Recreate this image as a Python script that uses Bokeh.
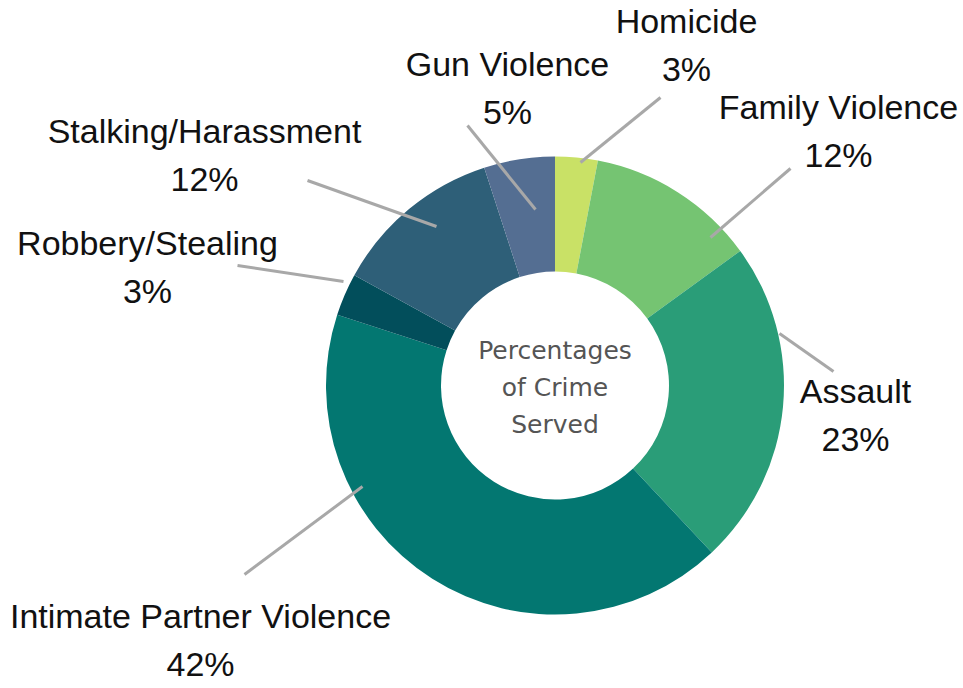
import math
from bokeh.plotting import figure
from bokeh.embed import file_html
from bokeh.resources import INLINE
from bokeh.models import ColumnDataSource
from bokeh.core.properties import value

# ---- data ----
categories = ["Homicide", "Family Violence", "Assault", "Intimate Partner Violence",
              "Robbery/Stealing", "Stalking/Harassment", "Gun Violence"]
percents = [3, 12, 23, 42, 3, 12, 5]
colors = ["#c9e166", "#75c472", "#2a9d78", "#037771", "#024e5b", "#2e5f78", "#546e92"]
center_lines = ["Percentages", "of Crime", "Served"]

# ---- layout (reference pixels, converted below) ----
W, H = 963, 688
def fx(X): return X
def fy(Y): return H - Y

cx, cy = fx(554.5), fy(385)
r_out, r_in = 229, 114

label_pos = [(686, 20), (838, 106), (855, 390), (200, 615), (147, 242), (204, 130), (507, 63)]
leader = [((580, 162), (660, 97)), ((710, 237), (790, 168)), ((779, 333), (833, 371)),
          ((362, 486), (244, 574)), ((343, 281), (237, 265)), ((436, 226), (307, 180)),
          ((535, 209), (467, 125))]

total = float(sum(percents))
starts, ends = [], []
cum = 0.0
for v in percents:
    a0 = math.pi / 2 - 2 * math.pi * cum / total
    cum += v
    a1 = math.pi / 2 - 2 * math.pi * cum / total
    starts.append(a0)
    ends.append(a1)

src = ColumnDataSource(dict(start=starts, end=ends, color=colors))

p = figure(width=W, height=H, x_range=(0, W), y_range=(0, H),
           output_backend="svg", toolbar_location=None, min_border=0)
p.axis.visible = False
p.grid.visible = False
p.outline_line_color = None
p.background_fill_color = "white"

p.annular_wedge(x=cx, y=cy, inner_radius=r_in, outer_radius=r_out,
                start_angle="start", end_angle="end", direction="clock",
                fill_color="color", line_color=None, source=src)

for (a, b) in leader:
    p.line([fx(a[0]), fx(b[0])], [fy(a[1]), fy(b[1])], line_color="#a8a8a8", line_width=3)

name_x, name_y, pct_x, pct_y, pct_txt = [], [], [], [], []
for (X, Y), v in zip(label_pos, percents):
    name_x.append(fx(X)); name_y.append(fy(Y))
    pct_x.append(fx(X)); pct_y.append(fy(Y + 48))
    pct_txt.append(f"{v}%")

p.text(x=name_x, y=name_y, text=categories, text_align="center", text_baseline="middle",
       text_font=value("Liberation Sans"), text_font_size="34px", text_color="#111111")
p.text(x=pct_x, y=pct_y, text=pct_txt, text_align="center", text_baseline="middle",
       text_font=value("Liberation Sans"), text_font_size="34px", text_color="#111111")

p.text(x=[cx] * 3, y=[fy(350), fy(387), fy(424)], text=center_lines,
       text_align="center", text_baseline="middle",
       text_font=value("DejaVu Sans"), text_font_size="25px", text_color="#555555")

open("out.html", "w").write(file_html(p, INLINE))
